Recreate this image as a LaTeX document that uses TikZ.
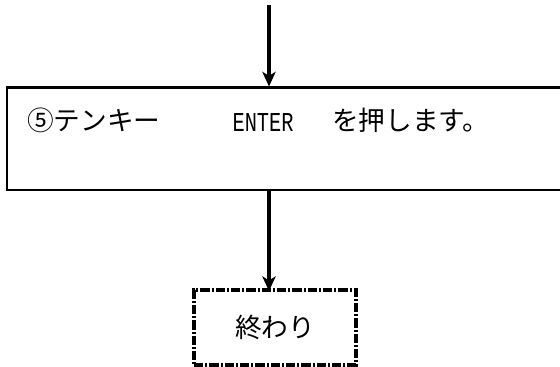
\documentclass[tikz,border=0pt]{standalone}
\usepackage{graphicx}
\usepackage{fontspec}
\usetikzlibrary{arrows.meta,positioning}
\newfontfamily\jafont{Noto Sans CJK JP}
\newfontfamily\ttfnt{Liberation Mono}

\begin{document}
\begin{tikzpicture}[>={Stealth[length=11pt,width=10pt,inset=3pt]},x=0.75pt,y=-0.75pt,
  stepbox/.style={draw,line width=1.6pt,rectangle,inner sep=0pt,minimum width=420pt,minimum height=76.5pt},
  endbox/.style={draw,line width=2.4pt,rectangle,inner sep=0pt,minimum width=121.5pt,minimum height=56.25pt,
    dash pattern=on 7pt off 1.5pt on 1.5pt off 1.5pt,font=\jafont\fontsize{20}{20}\selectfont},
  flow/.style={->,line width=2.4pt}]
  \useasboundingbox (0,0) rectangle (560,367);
  \clip (0,0) rectangle (560,367);
  % step box runs off the right edge
  \node[stepbox,anchor=north west] (step5) at (6,86.5) {};
  \node[anchor=west,inner sep=0pt,font=\jafont\fontsize{20}{20}\selectfont] (step5txt) at (27,120)
    {⑤テンキー\hspace{54pt}\raisebox{-1pt}{\resizebox{45.75pt}{13.5pt}{\ttfnt ENTER}}\hspace{29pt}を押します。};
  \node[endbox] (finish) at (275,327.5) {終わり};
  % connectors
  \coordinate (start) at (269,5);
  \draw[flow] (start) -- (start |- step5.north);
  \draw[flow] (start |- step5.south) -- ([yshift=-2pt]start |- finish.north);
\end{tikzpicture}
\end{document}
